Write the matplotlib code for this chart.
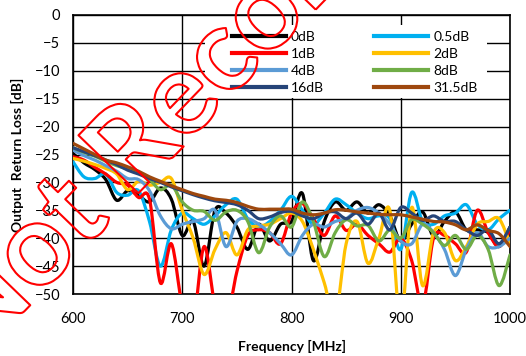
"""Output return loss vs frequency for each attenuation state."""

import matplotlib
matplotlib.use("Agg")
import matplotlib.pyplot as plt
import matplotlib.patheffects as pe
from matplotlib.lines import Line2D
from matplotlib.patches import PathPatch, Rectangle
from matplotlib.path import Path
import numpy as np

plt.rcParams['font.family'] = ['Lato', 'DejaVu Sans']

freq = list(range(600, 1001, 10))

rl_0db = [-24.8, -26.5, -27.7, -29.5, -33.2, -31.5, -32.3, -33.5, -31.0, -33.0,
          -39.5, -37.0, -45.0, -35.0, -35.5, -38.0, -42.0, -37.5, -40.5, -37.5,
          -37.0, -32.0, -44.0, -37.0, -33.5, -35.0, -33.5, -35.5, -34.0, -36.0,
          -40.5, -37.5, -35.3, -39.6, -37.0, -35.3, -38.5, -38.5, -39.0, -41.5,
          -38.0]
rl_05db = [-26.3, -29.0, -29.3, -28.5, -31.8, -32.3, -31.5, -37.0, -45.0, -38.5,
           -35.5, -36.5, -37.5, -36.0, -34.0, -33.0, -36.5, -38.0, -37.0, -35.0,
           -32.5, -35.0, -37.5, -35.5, -33.0, -34.0, -35.5, -36.5, -36.0, -36.5,
           -42.0, -31.8, -37.0, -37.5, -36.0, -35.5, -34.0, -37.5, -38.5, -36.5,
           -35.0]
rl_1db = [-25.4, -26.0, -27.3, -28.5, -30.0, -30.5, -32.7, -33.0, -48.0, -41.0,
          -52.0, -55.0, -41.5, -52.0, -55.0, -46.0, -39.5, -38.5, -39.0, -41.0,
          -35.5, -33.8, -36.5, -39.5, -36.0, -38.6, -37.5, -39.5, -41.0, -42.5,
          -40.0, -44.0, -52.0, -40.0, -39.5, -41.0, -42.5, -35.0, -39.0, -41.5,
          -38.5]
rl_2db = [-25.7, -26.2, -26.8, -27.5, -28.5, -31.3, -29.8, -30.5, -30.0, -29.3,
          -35.0, -40.0, -46.5, -42.0, -39.0, -43.0, -38.5, -37.8, -37.5, -36.5,
          -35.5, -37.0, -42.0, -48.0, -54.0, -41.0, -37.0, -44.5, -40.0, -35.0,
          -55.0, -34.5, -48.5, -39.0, -39.0, -44.0, -41.5, -37.5, -37.0, -36.5,
          -41.0]
rl_4db = [-24.2, -25.2, -26.0, -27.0, -28.0, -29.3, -29.5, -31.5, -36.0, -38.3,
          -37.5, -37.0, -36.5, -35.0, -41.5, -37.0, -36.5, -37.5, -39.0, -41.0,
          -43.0, -39.5, -37.5, -38.0, -37.0, -36.5, -35.0, -34.5, -35.5, -37.5,
          -40.5, -41.0, -37.5, -39.0, -42.0, -46.7, -42.0, -39.0, -41.5, -41.5,
          -40.0]
rl_8db = [-23.8, -24.6, -25.3, -26.2, -27.0, -27.6, -28.3, -29.5, -31.3, -30.5,
          -33.5, -35.0, -35.2, -36.8, -35.3, -35.0, -37.0, -42.6, -38.0, -36.0,
          -38.0, -33.5, -37.0, -43.3, -39.0, -36.7, -37.8, -37.7, -40.5, -38.5,
          -40.0, -36.7, -37.5, -39.0, -41.3, -39.5, -42.0, -39.5, -42.0, -48.5,
          -43.0]
rl_16db = [-23.8, -24.5, -25.2, -26.0, -26.8, -27.8, -28.5, -29.3, -30.0, -30.8,
           -31.5, -32.2, -32.8, -33.3, -33.6, -34.0, -35.0, -36.5, -36.2, -35.4,
           -35.2, -36.0, -36.5, -35.5, -35.3, -36.5, -35.5, -37.5, -35.5, -38.5,
           -34.5, -35.5, -36.8, -36.0, -37.0, -37.0, -38.5, -39.5, -38.5, -41.0,
           -38.0]
rl_315db = [-23.0, -24.0, -25.0, -26.0, -26.5, -27.2, -28.0, -29.0, -29.8, -30.6,
            -31.3, -32.0, -32.5, -33.0, -33.2, -33.6, -34.3, -34.8, -34.8, -34.8,
            -34.8, -35.5, -35.8, -35.5, -34.9, -35.0, -35.3, -35.5, -35.7, -35.8,
            -35.8, -36.2, -36.6, -37.0, -37.1, -37.6, -38.5, -37.6, -38.6, -39.2,
            -41.5]

labels = ['0dB', '0.5dB', '1dB', '2dB', '4dB', '8dB', '16dB', '31.5dB']
colors = ['#000000', '#00B0F0', '#FF0000', '#FFC000',
          '#5B9BD5', '#70AD47', '#264478', '#9E480E']
series = [rl_0db, rl_05db, rl_1db, rl_2db, rl_4db, rl_8db, rl_16db, rl_315db]


def smooth_path(x, y):
    """Catmull-Rom style bezier through the points (like a smoothed line)."""
    pts = np.column_stack([x, y]).astype(float)
    n = len(pts)
    verts = [pts[0]]
    codes = [Path.MOVETO]
    for i in range(n - 1):
        p0 = pts[max(i - 1, 0)]
        p1 = pts[i]
        p2 = pts[i + 1]
        p3 = pts[min(i + 2, n - 1)]
        verts += [p1 + (p2 - p0) / 6, p2 - (p3 - p1) / 6, p2]
        codes += [Path.CURVE4] * 3
    return Path(verts, codes)


fig = plt.figure(figsize=(5.26, 3.56), dpi=100)
ax = fig.add_axes([73 / 526, 62 / 356, 437 / 526, 279 / 356])

for vals, col in zip(series, colors):
    patch = PathPatch(smooth_path(freq, vals), facecolor='none', edgecolor=col,
                      lw=2.3, joinstyle='round', capstyle='round', zorder=3)
    ax.add_patch(patch)

ax.set_xlim(600, 1000)
ax.set_ylim(-50, 0)
ax.set_xticks(range(600, 1001, 100))
ax.set_yticks(range(-50, 1, 5))
ax.grid(True, color='black', lw=1.0)
ax.tick_params(length=0, labelsize=10.5)
ax.tick_params(axis='x', pad=13)
ax.tick_params(axis='y', pad=9)
for sp in ax.spines.values():
    sp.set_color('black')
    sp.set_linewidth(1.2)

ax.set_xlabel('Frequency [MHz]', fontsize=10, fontweight='bold', labelpad=10)
ax.set_ylabel('Output  Return Loss [dB]', fontsize=10, fontweight='bold', labelpad=8)

# white block behind the legend hides the grid there
ax.add_patch(Rectangle((0.302, 0.703), 0.645, 0.261, transform=ax.transAxes,
                       facecolor='white', edgecolor='none', zorder=2))

handles = [Line2D([], [], color=c, lw=3) for c in colors]
order = [0, 2, 4, 6, 1, 3, 5, 7]
ax.legend([handles[i] for i in order], [labels[i] for i in order], ncol=2,
          loc='upper left', bbox_to_anchor=(0.364, 0.943), frameon=False,
          borderpad=0, borderaxespad=0, handlelength=3.9, handletextpad=0.35,
          columnspacing=3.6, labelspacing=0.37, fontsize=10)

fig.text(-0.0475, -0.018, 'Not Recommended', rotation=46,
         rotation_mode='anchor', ha='left', va='baseline', fontsize=83,
         fontweight='bold', color='none', zorder=10,
         path_effects=[pe.withStroke(linewidth=1.5, foreground='red')])

fig.savefig('out.png', dpi=100)
